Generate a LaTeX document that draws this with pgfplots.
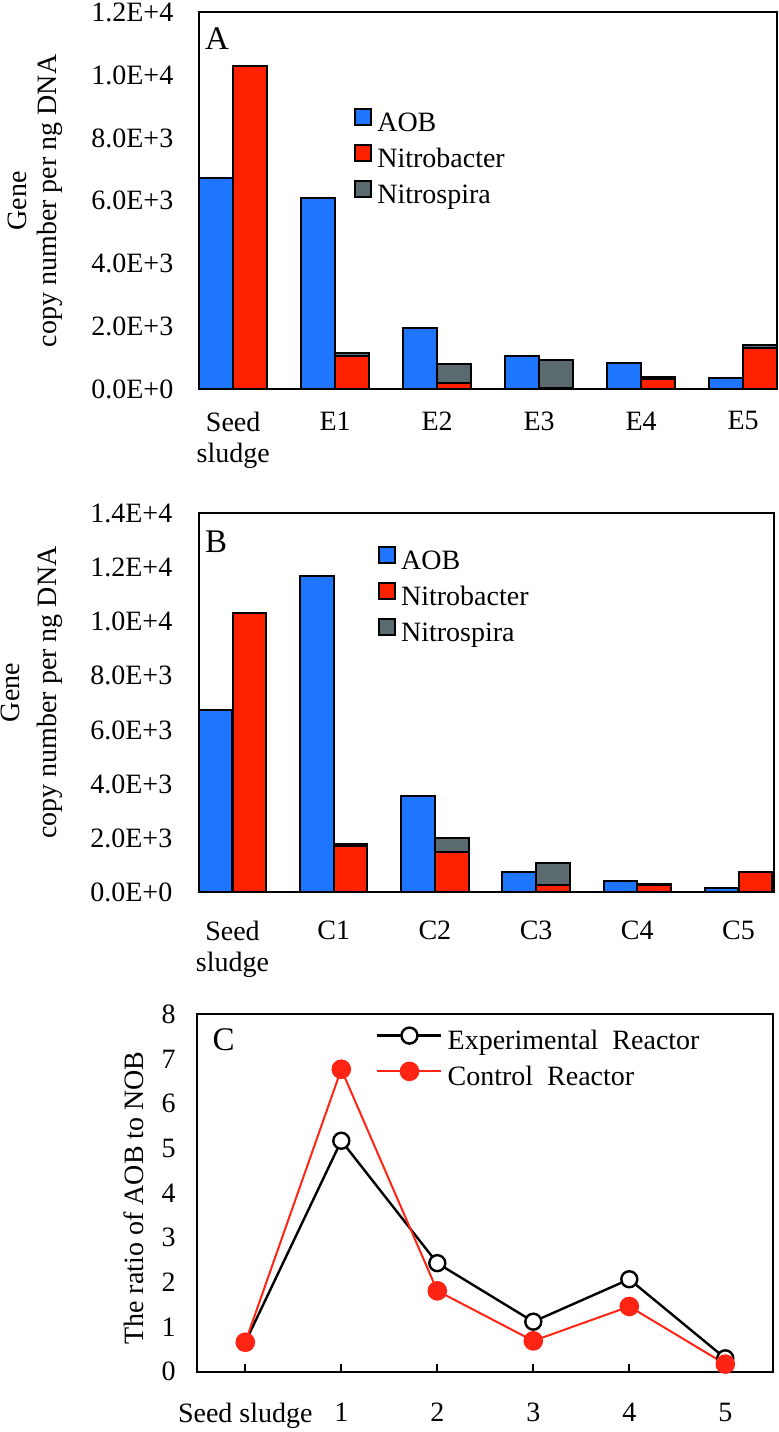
\documentclass[border=0pt]{standalone}
\usepackage{fontspec}
\setmainfont{Liberation Serif}
\usepackage{pgfplots}
\usepackage{pgfplotstable}
\pgfplotsset{compat=1.18}

\definecolor{aob}{RGB}{30,118,255}
\definecolor{nbred}{RGB}{255,34,0}
\definecolor{nsgray}{RGB}{90,106,110}
\definecolor{ctrlred}{RGB}{255,36,20}

% x, AOB, Nitrobacter, Nitrospira (gene copies per ng DNA)
\pgfplotstableread{
x aob nb ns
0 6720 10300 0
1 6080 1060 105
2 1940 200 600
3 1050 40 890
4 830 320 60
5 350 1305 105
}\dataE

\pgfplotstableread{
x aob nb ns
0 6720 10300 0
1 11700 1710 60
2 3560 1480 515
3 740 270 825
4 430 260 45
5 150 740 20
}\dataC

\pgfplotstableread{
x exp ctrl
0 0.66 0.66
1 5.17 6.77
2 2.43 1.81
3 1.12 0.69
4 2.07 1.46
5 0.30 0.17
}\ratio

\pgfplotsset{
  barpanel/.style={
    scale only axis,
    ybar, bar width=0.333,
    ymin=0,
    scaled y ticks=false,
    axis line style={line width=1pt},
    tick style={draw=none},
    xtick={0,...,5},
    xticklabel style={align=center, font=\fontsize{14}{15.5}\selectfont},
    legend cell align=left,
    legend style={draw=none, fill=none, inner sep=0pt, row sep=3.5pt, column sep=2.5pt,
      nodes={inner sep=0pt, text height=10pt, text depth=3pt}},
  },
  bars/.style={draw=black, line width=1pt},
  sqlegend/.style={legend image code/.code={\draw[##1, draw=black, line width=1pt] (0pt,-0.5pt) rectangle (8pt,7.5pt);}},
}

\begin{document}
\fontsize{14}{16}\selectfont
\begin{tikzpicture}
\useasboundingbox (0,0) rectangle (389.5pt,-716pt);

% ---------- A: experimental reactor ----------
\begin{axis}[barpanel,
  at={(99.5pt,-194.65pt)}, anchor=south west,
  width=289pt, height=188.5pt,
  xmin=-0.335, xmax=5.332, ymax=12000,
  ytick={0,2000,4000,6000,8000,10000,12000},
  yticklabels={0.0E+0,2.0E+3,4.0E+3,6.0E+3,8.0E+3,1.0E+4,1.2E+4},
  yticklabel style={xshift=-8pt},
  xticklabels={{Seed\\sludge},E1,E2,E3,E4,E5},
  xticklabel style={yshift=-2pt},
  ylabel={Gene\\copy number per ng DNA},
  every axis y label/.style={at={(rel axis cs:-0.2837,0.5)}, rotate=90, anchor=center,
    align=center, font=\fontsize{14}{15}\selectfont},
  legend style={at={(0.268,0.746)}, anchor=north west},
]
\addplot[bars, fill=aob, bar shift=-0.1667, forget plot] table[x=x, y=aob] {\dataE};
\addplot[bars, fill=nsgray, bar shift=0.1667, forget plot] table[x=x, y expr=\thisrow{nb}+\thisrow{ns}] {\dataE};
\addplot[bars, fill=nbred, bar shift=0.1667, forget plot] table[x=x, y=nb] {\dataE};
\addlegendimage{sqlegend, fill=aob}
\addlegendentry{AOB}
\addlegendimage{sqlegend, fill=nbred}
\addlegendentry{Nitrobacter}
\addlegendimage{sqlegend, fill=nsgray}
\addlegendentry{Nitrospira}
\node[anchor=west, inner sep=0pt, font=\fontsize{16.5}{18}\selectfont] at (rel axis cs:0.01,0.929) {A};
\end{axis}

% ---------- B: control reactor ----------
\begin{axis}[barpanel,
  at={(99.5pt,-446.15pt)}, anchor=south west,
  width=287.25pt, height=189.5pt,
  xmin=-0.331, xmax=5.346, ymax=14000,
  ytick={0,2000,4000,6000,8000,10000,12000,14000},
  yticklabels={0.0E+0,2.0E+3,4.0E+3,6.0E+3,8.0E+3,1.0E+4,1.2E+4,1.4E+4},
  yticklabel style={xshift=-8.5pt},
  xticklabels={{Seed\\sludge},C1,C2,C3,C4,C5},
  xticklabel style={yshift=-5pt},
  ylabel={Gene\\copy number per ng DNA},
  every axis y label/.style={at={(rel axis cs:-0.291,0.527)}, rotate=90, anchor=center,
    align=center, font=\fontsize{14}{18.5}\selectfont},
  legend style={at={(0.311,0.914)}, anchor=north west},
]
\addplot[bars, fill=aob, bar shift=-0.1667, forget plot] table[x=x, y=aob] {\dataC};
\addplot[bars, fill=nsgray, bar shift=0.1667, forget plot] table[x=x, y expr=\thisrow{nb}+\thisrow{ns}] {\dataC};
\addplot[bars, fill=nbred, bar shift=0.1667, forget plot] table[x=x, y=nb] {\dataC};
\addlegendimage{sqlegend, fill=aob}
\addlegendentry{AOB}
\addlegendimage{sqlegend, fill=nbred}
\addlegendentry{Nitrobacter}
\addlegendimage{sqlegend, fill=nsgray}
\addlegendentry{Nitrospira}
\node[anchor=west, inner sep=0pt, font=\fontsize{16.5}{18}\selectfont] at (rel axis cs:0.01,0.925) {B};
\end{axis}

% ---------- C: AOB/NOB ratio ----------
\begin{axis}[scale only axis,
  at={(98.65pt,-685.85pt)}, anchor=south west,
  width=288pt, height=178.7pt,
  xmin=-0.5, xmax=5.5, ymin=0, ymax=8,
  xtick={0,...,5}, xticklabels={Seed sludge,1,2,3,4,5},
  ytick={0,1,...,8},
  axis line style={line width=1pt},
  xtick pos=left, tick align=inside, major tick length=4pt,
  xtick style={draw=black, line width=1pt},
  ytick style={draw=none},
  xticklabel style={yshift=-11pt},
  yticklabel style={xshift=-6pt},
  /pgf/number format/assume math mode=true,
  clip=false,
  ylabel={The ratio of AOB to NOB},
  every axis y label/.style={at={(rel axis cs:-0.111,0.486)}, rotate=90, anchor=center},
  legend cell align=left,
  legend style={at={(0.31,0.964)}, anchor=north west, draw=none, fill=none, inner sep=0pt,
    row sep=3.5pt, column sep=2.5pt, nodes={inner sep=0pt, text height=10pt, text depth=3pt}},
  legend image code/.code={\draw[mark repeat=2, mark phase=2, #1] plot coordinates {(0pt,3.5pt) (16pt,3.5pt) (32pt,3.5pt)};},
]
\addplot[black, line width=1.2pt, mark=*, mark size=4pt, mark options={fill=white, draw=black}]
  table[x=x, y=exp] {\ratio};
\addlegendentry{Experimental\ \ Reactor}
\addplot[ctrlred, line width=1pt, mark=*, mark size=4.4pt, mark options={fill=ctrlred, draw=ctrlred}]
  table[x=x, y=ctrl] {\ratio};
\addlegendentry{Control\ \ Reactor}
\node[anchor=west, inner sep=0pt, font=\fontsize{16.5}{18}\selectfont] at (rel axis cs:0.026,0.928) {C};
\end{axis}
\end{tikzpicture}
\end{document}
